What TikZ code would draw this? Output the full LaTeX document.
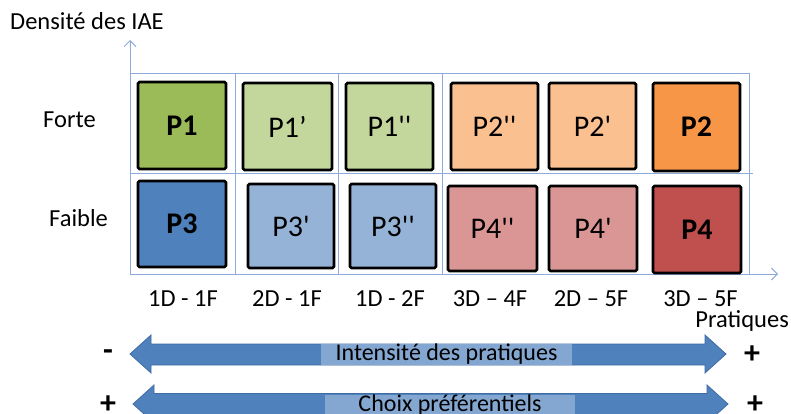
\documentclass[tikz,border=0pt]{standalone}
\usepackage{fontspec}
\setmainfont{Carlito}[Ligatures=TeXOff]
\usetikzlibrary{arrows.meta}
\definecolor{gridc}{HTML}{8EAADB}
\definecolor{gA}{HTML}{9BBB59}
\definecolor{gB}{HTML}{C3D69B}
\definecolor{oA}{HTML}{F79646}
\definecolor{oB}{HTML}{FAC090}
\definecolor{bA}{HTML}{4F81BD}
\definecolor{bB}{HTML}{95B3D7}
\definecolor{rA}{HTML}{C0504D}
\definecolor{rB}{HTML}{D99694}
\definecolor{arrline}{HTML}{3F6CA3}
\definecolor{band}{HTML}{84A7D1}
\tikzset{
  pbox/.style={draw=black, line width=2.8pt, rounded corners=1.5pt, inner sep=0pt, font=\fontsize{30}{33}\selectfont},
  gridline/.style={draw=gridc, line width=0.9pt},
  axisarrow/.style={draw=gridc, line width=0.9pt, -{Straight Barb[length=6pt,width=12pt,line width=0.9pt]}},
  lbl/.style={font=\fontsize{24.5}{28}\selectfont, text=black, inner sep=0pt},
  xlbl/.style={font=\fontsize{24.5}{28}\selectfont, text=black, inner sep=0pt, text depth=0pt},
  sign/.style={font=\bfseries\fontsize{32}{34}\selectfont, inner sep=0pt},
  bigarrow/.style={fill=bA, draw=arrline, line width=0.8pt},
  bandtext/.style={fill=band, inner sep=0pt, text=black, font=\fontsize{24}{26}\selectfont},
}
\begin{document}
\begin{tikzpicture}[x=1pt,y=-1pt]
\useasboundingbox (0,0) rectangle (791,414);

% grid
\coordinate (o) at (130,274);
\coordinate (ytip) at (130,40);
\coordinate (xtip) at (778,274);
\draw[gridline] (130,73) -- (749,73);
\draw[gridline] (130,173) -- (753,173);
\draw[gridline] (235,73) -- (235,274);
\draw[gridline] (338,73) -- (338,274);
\draw[gridline] (442,73) -- (442,274);
\draw[gridline] (749,73) -- (749,274);
\draw[axisarrow] (o) -- (ytip);
\draw[axisarrow] (o) -- (xtip);

% boxes
\node[pbox, fill=gA, minimum width=88pt, minimum height=87pt] (p1) at (182,125.5) {\bfseries P1};
\node[pbox, fill=gB, minimum width=89pt, minimum height=87pt] (p1a) at (287.5,126.5) {P1’};
\node[pbox, fill=gB, minimum width=87pt, minimum height=87pt] (p1b) at (389.5,126.5) {P1''};
\node[pbox, fill=oB, minimum width=87pt, minimum height=87pt] (p2b) at (494.5,126.5) {P2''};
\node[pbox, fill=oB, minimum width=87pt, minimum height=86pt] (p2a) at (592.5,126) {P2'};
\node[pbox, fill=oA, minimum width=87pt, minimum height=88pt] (p2) at (696.5,127) {\bfseries P2};

\node[pbox, fill=bA, minimum width=88pt, minimum height=86pt] (p3) at (182,224) {\bfseries P3};
\node[pbox, fill=bB, minimum width=86pt, minimum height=84pt] (p3a) at (291,226) {P3'};
\node[pbox, fill=bB, minimum width=86pt, minimum height=84pt] (p3b) at (393,226) {P3''};
\node[pbox, fill=rB, minimum width=89pt, minimum height=85pt] (p4b) at (492.5,228.5) {P4''};
\node[pbox, fill=rB, minimum width=88pt, minimum height=85pt] (p4a) at (593,228.5) {P4'};
\node[pbox, fill=rA, minimum width=88pt, minimum height=87pt] (p4) at (697,229.5) {\bfseries P4};

% axis labels
\node[lbl, anchor=base west] (ylab) at (10,29.5) {Densité des IAE};
\node[lbl, anchor=base west] (forte) at (43,128) {Forte};
\node[lbl, anchor=base west] (faible) at (49,226) {Faible};
\node[lbl, anchor=base east, text height=15pt] (xlab) at (789,327.5) {Pratiques};

\node[xlbl, anchor=base] (c1) at (183,306) {1D - 1F};
\node[xlbl, anchor=base] (c2) at (287,306) {2D - 1F};
\node[xlbl, anchor=base] (c3) at (390,306) {1D - 2F};
\node[xlbl, anchor=base] (c4) at (490,306) {3D – 4F};
\node[xlbl, anchor=base] (c5) at (591,306) {2D – 5F};
\node[xlbl, anchor=base] (c6) at (700.5,306) {3D – 5F};

% double arrows
\path[bigarrow] (130,354) -- (151,335) -- (151,344) -- (705,344) -- (705,335) -- (726,354)
  -- (705,373) -- (705,365) -- (151,365) -- (151,373) -- cycle;
\node[bandtext, minimum width=251pt, minimum height=20.5pt] (t1) at (446.5,354.5) {Intensité des pratiques};

\path[bigarrow] (133,404) -- (154,385) -- (154,393.5) -- (707,393.5) -- (707,385) -- (728,404)
  -- (707,423) -- (707,414.5) -- (154,414.5) -- (154,423) -- cycle;
\node[bandtext, minimum width=250pt, minimum height=21pt] (t2) at (450,405) {Choix préférentiels};

% signs
\node[sign] (m1) at (108,355) {-};
\node[sign] (pl1) at (752,355) {+};
\node[sign] (pl2) at (108,405) {+};
\node[sign] (pl3) at (755,405) {+};
\end{tikzpicture}
\end{document}
